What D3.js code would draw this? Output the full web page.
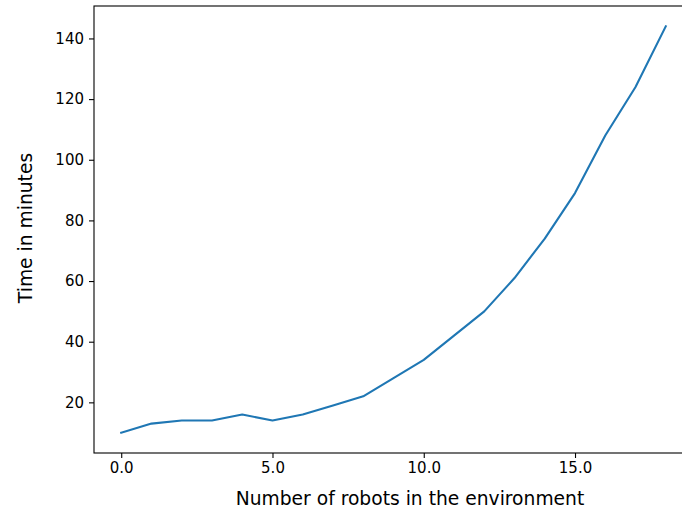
<!DOCTYPE html>
<html><head><meta charset="utf-8">
<script src="https://cdn.jsdelivr.net/npm/d3@7"></script>
<style>
html,body{margin:0;padding:0;background:#fff;}
svg{display:block;}
</style></head>
<body>
<script>
const robots = [0,1,2,3,4,5,6,7,8,9,10,11,12,13,14,15,16,17,18];
const minutes = [10,13,14,14,16,14,16,19,22,28,34,42,50,61,74,89,108,124,144];
const xTicks = [0,5,10,15];
const yTicks = [20,40,60,80,100,120,140];
const xLabel = "Number of robots in the environment";
const yLabel = "Time in minutes";

(function () {
const W = 682, H = 513;
const svg = d3.select("body").append("svg").attr("width", W).attr("height", H)
  .style("font-family", "'DejaVu Sans', sans-serif");

const pLeft = 94, pTop = 6, pBottom = 453, pRight = 693;
const x = d3.scaleLinear().domain([-0.9, 18.9]).range([pLeft, pRight]);
const y = d3.scaleLinear().domain([3.3, 150.7]).range([pBottom, pTop]);

const tickFont = 15;
const xa = svg.append("g").attr("transform", `translate(0,${pBottom})`)
  .call(d3.axisBottom(x).tickValues(xTicks).tickFormat(d3.format(".1f")).tickSize(5).tickSizeOuter(0).tickPadding(4));
const ya = svg.append("g").attr("transform", `translate(${pLeft},0)`)
  .call(d3.axisLeft(y).tickValues(yTicks).tickFormat(d3.format("d")).tickSize(5).tickSizeOuter(0).tickPadding(5));
[xa, ya].forEach(g => {
  g.selectAll("text").attr("font-size", tickFont).attr("fill", "#000").attr("font-family", "'DejaVu Sans', sans-serif");
  g.selectAll("line").attr("stroke", "#000").attr("stroke-width", 1.1);
  g.select(".domain").remove();
});

svg.append("rect").attr("x", pLeft).attr("y", pTop).attr("width", pRight - pLeft).attr("height", pBottom - pTop)
  .attr("fill", "none").attr("stroke", "#000").attr("stroke-width", 1.1);

const line = d3.line().x((d, i) => x(robots[i])).y(d => y(d));
svg.append("path").datum(minutes).attr("d", line)
  .attr("fill", "none").attr("stroke", "#1f77b4").attr("stroke-width", 2.1)
  .attr("stroke-linejoin", "round").attr("stroke-linecap", "square");

svg.append("text").attr("x", 410).attr("y", 505).attr("text-anchor", "middle")
  .attr("font-size", 18.7).attr("fill", "#000").text(xLabel);
svg.append("text").attr("transform", "translate(32,228) rotate(-90)").attr("text-anchor", "middle")
  .attr("font-size", 18.7).attr("fill", "#000").text(yLabel);
})();
</script>
</body></html>
